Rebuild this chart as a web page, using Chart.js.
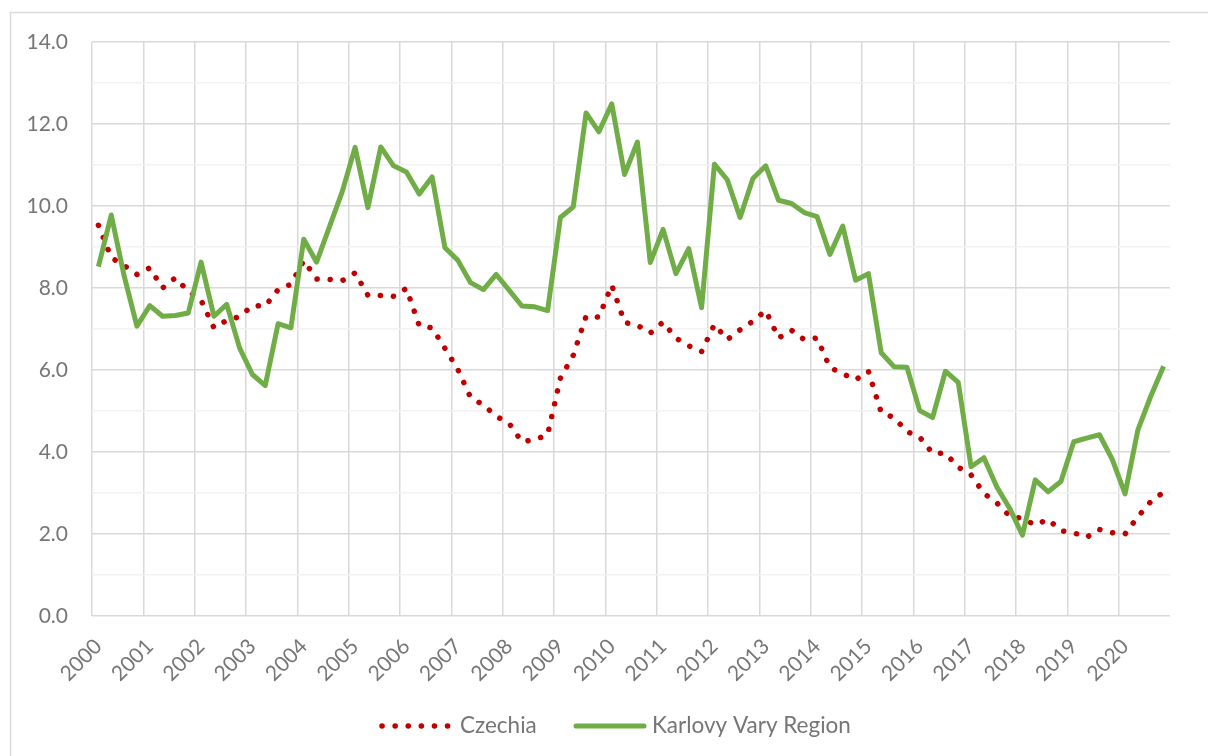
<!DOCTYPE html>
<html>
<head>
<meta charset="utf-8">
<script src="https://cdn.jsdelivr.net/npm/chart.js@4/dist/chart.umd.min.js"></script>
<style>
  html, body { margin: 0; padding: 0; background: #fff; }
  canvas { display: block; }
</style>
</head>
<body>
<canvas id="myChart" width="1208" height="756"></canvas>
<script>
// data block
var years = [2000, 2001, 2002, 2003, 2004, 2005, 2006, 2007, 2008, 2009, 2010,
             2011, 2012, 2013, 2014, 2015, 2016, 2017, 2018, 2019, 2020];
var quarters = ['Q1', 'Q2', 'Q3', 'Q4'];
var yTicks = [0, 2, 4, 6, 8, 10, 12, 14];

var czechia = [9.53, 8.74, 8.55, 8.33, 8.49, 8.00, 8.25, 7.92, 7.70, 7.03,
               7.21, 7.30, 7.57, 7.56, 7.96, 8.09, 8.67, 8.22, 8.21, 8.18,
               8.37, 7.82, 7.82, 7.80, 7.99, 7.08, 7.03, 6.53, 6.02, 5.33,
               5.15, 4.87, 4.70, 4.25, 4.30, 4.42, 5.80, 6.36, 7.31, 7.29,
               8.07, 7.16, 7.09, 6.90, 7.17, 6.78, 6.59, 6.45, 7.11, 6.74,
               6.98, 7.19, 7.45, 6.78, 6.97, 6.74, 6.78, 6.06, 5.91, 5.76,
               5.97, 4.96, 4.84, 4.50, 4.36, 3.97, 3.97, 3.63, 3.44, 2.99,
               2.76, 2.44, 2.38, 2.22, 2.36, 2.08, 2.03, 1.92, 2.11, 2.03,
               2.00, 2.42, 2.79, 3.02];

var karlovyVary = [8.52, 9.78, 8.30, 7.07, 7.57, 7.31, 7.33, 7.39, 8.63, 7.31,
                   7.60, 6.54, 5.89, 5.62, 7.13, 7.03, 9.19, 8.63, 9.49, 10.35,
                   11.43, 9.96, 11.44, 10.98, 10.83, 10.29, 10.71, 8.98, 8.68, 8.13,
                   7.96, 8.33, 7.95, 7.56, 7.54, 7.45, 9.72, 9.98, 12.27, 11.81,
                   12.49, 10.77, 11.56, 8.62, 9.43, 8.35, 8.96, 7.52, 11.02, 10.64,
                   9.72, 10.67, 10.98, 10.14, 10.06, 9.84, 9.74, 8.82, 9.51, 8.19,
                   8.35, 6.42, 6.08, 6.07, 5.01, 4.84, 5.97, 5.70, 3.64, 3.86,
                   3.15, 2.63, 1.97, 3.32, 3.03, 3.28, 4.25, 4.34, 4.42, 3.82,
                   2.98, 4.54, 5.36, 6.09];

var seriesNames = ['Czechia', 'Karlovy Vary Region'];

// labels: one per quarter
var labels = [];
years.forEach(function (y) {
  quarters.forEach(function (q) { labels.push(y + ' ' + q); });
});

var RED = '#C00000';
var GREEN = '#70AD47';
var FONT = "'Source Sans Pro', Lato, 'Noto Sans', sans-serif";
var TEXT = '#767676';
var DOTS = [0.1, 13];

// outer frame
const frame = {
  id: 'frame',
  beforeDraw(chart) {
    const ctx = chart.ctx;
    ctx.save();
    ctx.fillStyle = '#fff';
    ctx.fillRect(0, 0, chart.width, chart.height);
    ctx.strokeStyle = '#d9d9d9';
    ctx.lineWidth = 1.5;
    ctx.strokeRect(10.5, 12.5, 1400, 900);
    ctx.restore();
  }
};

// legend drawn at the bottom
const bottomLegend = {
  id: 'bottomLegend',
  afterDraw(chart) {
    const ctx = chart.ctx;
    const y = 726;
    ctx.save();
    ctx.font = '22.5px ' + FONT;
    ctx.textBaseline = 'middle';
    ctx.fillStyle = TEXT;

    // Czechia
    ctx.strokeStyle = RED;
    ctx.lineWidth = 5.5;
    ctx.lineCap = 'round';
    ctx.setLineDash(DOTS);
    ctx.beginPath();
    ctx.moveTo(382, y);
    ctx.lineTo(455, y);
    ctx.stroke();
    ctx.setLineDash([]);
    ctx.fillText(seriesNames[0], 460, y);

    // Karlovy Vary
    ctx.strokeStyle = GREEN;
    ctx.lineWidth = 5;
    ctx.beginPath();
    ctx.moveTo(576, y);
    ctx.lineTo(644, y);
    ctx.stroke();
    ctx.fillText(seriesNames[1], 652, y);
    ctx.restore();
  }
};

const data = {
  labels: labels,
  datasets: [{
    label: seriesNames[0],
    data: czechia,
    borderColor: RED,
    borderWidth: 5.5,
    borderDash: DOTS,
    borderCapStyle: 'round',
    borderJoinStyle: 'round',
    pointRadius: 0,
    tension: 0,
    order: 1
  }, {
    label: seriesNames[1],
    data: karlovyVary,
    borderColor: GREEN,
    borderWidth: 5,
    borderJoinStyle: 'round',
    pointRadius: 0,
    tension: 0,
    order: 0
  }]
};

const config = {
  type: 'line',
  data,
  options: {
    responsive: false,
    animation: false,
    devicePixelRatio: 1,
    layout: { padding: { left: 0, top: 42, right: 38, bottom: 0 } },
    plugins: {
      legend: { display: false },
      tooltip: { enabled: false }
    },
    scales: {
      x: {
        type: 'category',
        offset: true,
        border: { display: false },
        grid: {
          offset: true,
          drawTicks: false,
          lineWidth: 1.5,
          color: (c) => (c.index % 4 === 0 ? '#d9d9d9' : 'rgba(0,0,0,0)')
        },
        ticks: {
          autoSkip: false,
          maxRotation: 45,
          minRotation: 45,
          padding: 18,
          color: TEXT,
          font: { family: FONT, size: 21 },
          callback: (val, idx) => (idx % 4 === 0 ? String(years[idx / 4]) : '')
        },
        afterFit: (scale) => { scale.height = 140; }
      },
      y: {
        min: yTicks[0],
        max: yTicks[yTicks.length - 1],
        border: { display: false },
        grid: {
          drawTicks: false,
          lineWidth: 1.5,
          color: (c) => (c.tick && c.tick.value % 2 === 0 ? '#d9d9d9' : '#f2f2f2')
        },
        ticks: {
          stepSize: 1,
          padding: 24,
          color: TEXT,
          font: { family: FONT, size: 21 },
          callback: (v) => (yTicks.indexOf(v) >= 0 ? v.toFixed(1) : '')
        },
        afterFit: (scale) => { scale.width = 92; }
      }
    }
  },
  plugins: [frame, bottomLegend]
};

const myChart = new Chart(document.getElementById('myChart'), config);
</script>
</body>
</html>
